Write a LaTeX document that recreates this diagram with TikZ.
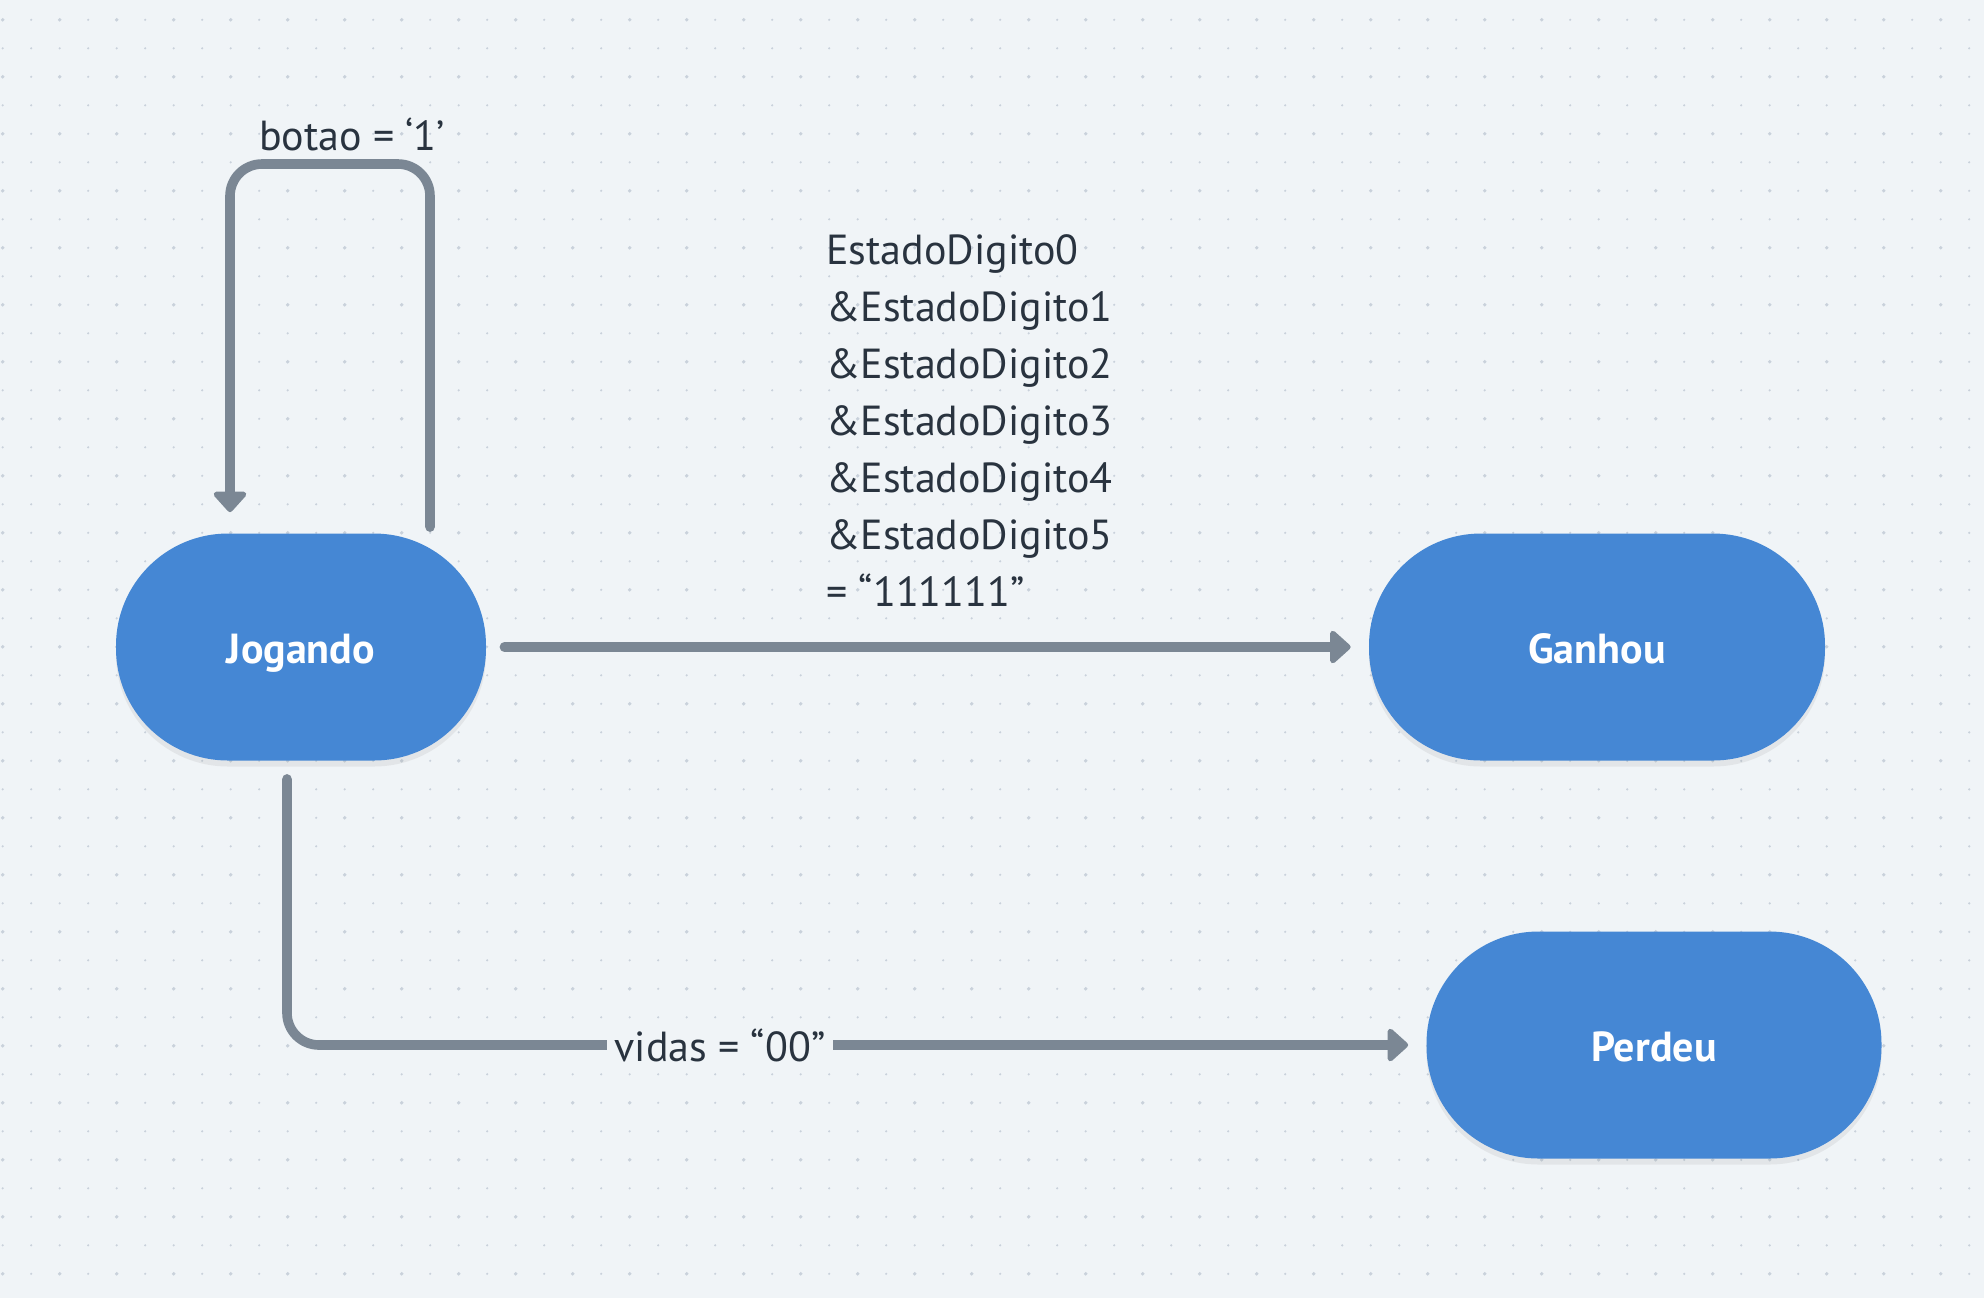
\documentclass[tikz,border=0pt]{standalone}
\usepackage{fontspec}
\setmainfont{PT Sans}
\usetikzlibrary{arrows.meta,shadows}
\definecolor{bg}{HTML}{F0F4F7}
\definecolor{dotc}{HTML}{C9D1DB}
\definecolor{nodeblue}{HTML}{4587D4}
\definecolor{conn}{HTML}{7B8794}
\definecolor{txt}{HTML}{29333F}
\tikzset{
  state/.style={rectangle, rounded corners=56pt, fill=nodeblue, minimum height=113.5pt,
    text=white, font=\fontsize{21}{24}\selectfont\bfseries, text height=16.5pt, text depth=0pt,
    drop shadow={opacity=0.12, shadow xshift=0pt, shadow yshift=-3pt}},
  connline/.style={draw=conn, line width=4.8pt, line cap=round,
    -{Triangle[width=19pt,length=11pt,round]}},
  lbl/.style={text=txt, font=\fontsize{21}{28.5}\selectfont, inner sep=2pt},
}
\begin{document}
\begin{tikzpicture}[x=0.5pt,y=-0.5pt]
\fill[bg] (0,0) rectangle (1984,1298);
\useasboundingbox (0,0) rectangle (1984,1298);
\foreach \i in {0,...,69}{
  \foreach \j in {0,...,45}{
    \pgfmathsetmacro{\r}{ifthenelse(mod(\i,2)==0 && mod(\j,2)==0,1.9,1.2)}
    \fill[dotc] (2.7+28.5*\i, 19.8+28.5*\j) circle[radius=\r];
  }
}
\node[state, minimum width=185pt] (J) at (301,647) {Jogando};
\node[state, minimum width=228pt] (G) at (1597,647) {Ganhou};
\node[state, minimum width=227.5pt] (P) at (1654,1045) {Perdeu};

% self loop
\coordinate (lr) at (430,164);
\coordinate (ll) at (230,164);
\draw[connline, rounded corners=16pt] ([yshift=3pt]J.north -| lr) -- (lr) -- (ll) -- ([yshift=10.5pt]J.north -| ll);
\node[lbl, anchor=base] (lb1) at (352,150) {botao = ‘1’};

% to Ganhou
\draw[connline, shorten <=9pt, shorten >=9pt] (J.east) -- (G.west);
\node[lbl, anchor=north west, align=left] (lb2) at (822,230) {EstadoDigito0\\\&EstadoDigito1\\\&EstadoDigito2\\\&EstadoDigito3\\\&EstadoDigito4\\\&EstadoDigito5\\= “111111”};

% to Perdeu
\coordinate (cl) at (287,1045);
\draw[connline, rounded corners=16pt] ([yshift=-9pt]J.south -| cl) -- (cl) -- ([xshift=-9pt]P.west);
\node[lbl, fill=bg, inner xsep=4pt, anchor=center] (lb3) at (720,1045) {vidas = “00”};
\end{tikzpicture}
\end{document}
